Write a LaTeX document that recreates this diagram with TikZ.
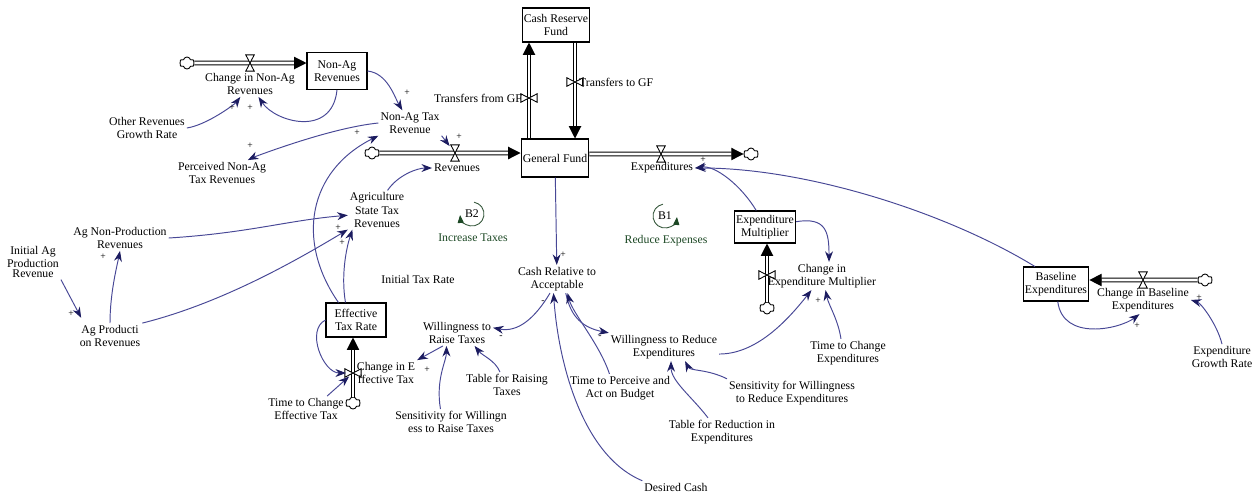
\documentclass[tikz,border=0pt]{standalone}
\usepackage{fontspec}
\setmainfont{Liberation Serif}
\usepackage{tikz}
\usepackage{xcolor}
\usetikzlibrary{arrows.meta}
\usetikzlibrary{shapes.symbols}
\definecolor{linkblue}{RGB}{72,72,150}
\definecolor{tipblue}{RGB}{28,28,96}
\definecolor{loopgreen}{RGB}{28,72,36}
\tikzset{stock/.style={draw, line width=0.6pt, minimum width=1.2cm, minimum height=0.68cm, inner sep=1pt, align=center, fill=white},
 aux/.style={inner sep=1pt, align=center},
 polarity/.style={inner sep=0pt, font=\fontsize{5.5}{6}\selectfont},
 pipe/.style={draw, line width=0.6pt, double distance=1.6pt, -{Triangle[length=7pt,width=7pt]}},
 link/.style={draw=linkblue, line width=0.55pt, -{Stealth[length=6pt,width=4.5pt,color=tipblue]}},
 cloudy/.style={cloud, cloud puffs=6, draw, line width=0.5pt, minimum width=0.3cm, minimum height=0.24cm, inner sep=0pt},
 loopname/.style={inner sep=1pt, text=loopgreen},
 looparc/.style={draw=loopgreen!80!gray, line width=0.5pt, -{Triangle[length=4.5pt,width=3.5pt,color=loopgreen]}},
 valve/.pic={\draw[fill=white, line width=0.5pt] (-2.4pt,4.6pt) -- (2.4pt,4.6pt) -- (-2.4pt,-4.6pt) -- (2.4pt,-4.6pt) -- cycle;},
 }

\begin{document}
\begin{tikzpicture}[x=0.02cm, y=-0.02cm, font=\fontsize{6.7}{7.6}\selectfont]
        \useasboundingbox (0, 0) rectangle (1254, 495);
        \node[stock, minimum width=1.24cm] (crf) at (556, 25) {Cash Reserve\\Fund};
        \node[stock, minimum height=0.74cm] (nar) at (337, 71) {Non-Ag\\Revenues};
        \node[stock, minimum width=1.28cm, minimum height=0.76cm] (gf) at (555, 158) {General Fund};
        \node[stock, minimum height=0.64cm] (em) at (765, 227) {Expenditure\\Multiplier};
        \node[stock] (etr) at (356, 320) {Effective\\Tax Rate};
        \node[stock] (be) at (1056, 284) {Baseline\\Expenditures};

        \node[cloudy] (cnar) at (187, 63) {};
        \node[cloudy] (crev) at (372, 153) {};
        \node[cloudy] (cexp) at (751, 154) {};
        \node[cloudy] (cetr) at (353, 403) {};
        \node[cloudy] (cem) at (767, 308) {};
        \node[cloudy] (cbe) at (1205, 280) {};

        \coordinate (vnar) at (250, 63);
        \coordinate (vrev) at (455, 153);
        \coordinate (vexp) at (661, 154);
        \coordinate (vtf) at (529, 98);
        \coordinate (vtt) at (575, 82);
        \coordinate (vetr) at (353, 373);
        \coordinate (vem) at (767, 275);
        \coordinate (vbe) at (1143, 280);

        \draw[pipe] (cnar) -- (cnar -| nar.west);
        \draw[pipe] (crev) -- (crev -| gf.west);
        \draw[pipe] (gf.east |- cexp) -- (cexp);
        \draw[pipe] (gf.north -| vtf) -- (crf.south -| vtf);
        \draw[pipe] (crf.south -| vtt) -- (gf.north -| vtt);
        \draw[pipe] (cetr) -- (cetr |- etr.south);
        \draw[pipe] (cem) -- (cem |- em.south);
        \draw[pipe] (cbe) -- (cbe -| be.east);

        \pic at (vnar) {valve};
        \pic at (vrev) {valve};
        \pic at (vexp) {valve};
        \pic at (vbe) {valve};
        \pic[rotate=90] at (vtf) {valve};
        \pic[rotate=90] at (vtt) {valve};
        \pic[rotate=90] at (vetr) {valve};
        \pic[rotate=90] at (vem) {valve};

        \node[aux] (cnarl) at (250, 84) {Change in Non-Ag\\Revenues};
        \node[aux] (revl) at (457, 168) {Revenues};
        \node[aux] (expl) at (662, 168) {Expenditures};
        \node[aux, anchor=east] (tfl) at (524, 98) {Transfers from GF};
        \node[aux, anchor=west] (ttl) at (577, 82) {Transfers to GF};
        \node[aux] (cetrl) at (386, 373) {Change in E\\ffective Tax};
        \node[aux] (ceml) at (822, 276) {Change in\\Expenditure Multiplier};
        \node[aux] (cbel) at (1143, 300) {Change in Baseline\\Expenditures};

        \node[aux] (nat) at (410, 123) {Non-Ag Tax\\Revenue};
        \node[aux] (org) at (147, 128) {Other Revenues\\Growth Rate};
        \node[aux] (pnat) at (222, 173) {Perceived Non-Ag\\Tax Revenues};
        \node[aux] (asr) at (377, 210) {Agriculture\\State Tax\\Revenues};
        \node[aux] (anp) at (120, 238) {Ag Non-Production\\Revenues};
        \node[aux, font=\fontsize{6.7}{5.8}\selectfont] (iapr) at (33, 262) {Initial Ag\\Production\\Revenue};
        \node[aux] (apr) at (110, 336) {Ag Producti\\on Revenues};
        \node[aux] (itr) at (418, 279) {Initial Tax Rate};
        \node[aux] (cra) at (557, 279) {Cash Relative to\\Acceptable};
        \node[aux] (wrt) at (457, 333) {Willingness to\\Raise Taxes};
        \node[aux] (trt) at (507, 385) {Table for Raising\\Taxes};
        \node[aux] (swr) at (451, 422) {Sensitivity for Willingn\\ess to Raise Taxes};
        \node[aux] (tcet) at (306, 409) {Time to Change\\Effective Tax};
        \node[aux] (tpab) at (620, 388) {Time to Perceive and\\Act on Budget};
        \node[aux] (wre) at (664, 347) {Willingness to Reduce\\Expenditures};
        \node[aux] (tre) at (722, 432) {Table for Reduction in\\Expenditures};
        \node[aux] (swre) at (792, 393) {Sensitivity for Willingness\\to Reduce Expenditures};
        \node[aux] (tce) at (848, 353) {Time to Change\\Expenditures};
        \node[aux] (egr) at (1222, 357) {Expenditure\\Growth Rate};
        \node[aux] (dc) at (676, 487) {Desired Cash};

        \node[aux] (b2) at (472, 214) {B2};
        \draw[looparc] (b2) ++(-80:12) arc[start angle=-80, end angle=175, radius=12];
        \node[loopname] (b2t) at (473, 238) {Increase Taxes};
        \node[aux] (b1) at (665, 216) {B1};
        \draw[looparc] (b1) ++(-100:12) arc[start angle=-100, end angle=-355, radius=12];
        \node[loopname] (b1t) at (666, 241) {Reduce Expenses};

        \draw[link] (nar.east) .. controls +(20, 2) and +(-15, -25) .. (nat);
        \draw[link] (nar.south) .. controls +(-5, 48) and +(25, 38) .. (cnarl);
        \draw[link] (org.east) .. controls +(20, -3) and +(-15, 20) .. (cnarl);
        \draw[link] (nat.west) .. controls +(-50, 5) and +(30, -15) .. (pnat);
        \draw[link] ([xshift=-10pt]etr.north) .. controls +(-43, -62) and +(-70, 35) .. (nat.south west);
        \draw[link, shorten >=5pt] (nat.south east) -- (vrev);
        \draw[link] ([xshift=6pt]asr.north) .. controls +(10, -15) and +(-15, 0) .. (revl.west);
        \draw[link] (anp.east) .. controls +(80, -5) and +(-60, 5) .. ([yshift=-3pt]asr.west);
        \draw[link] (apr.north east) .. controls +(80, -20) and +(-50, 30) .. (asr.south west);
        \draw[link] ([xshift=-6pt]etr.north) .. controls +(-5, -30) and +(-5, 15) .. ([xshift=-14pt]asr.south);
        \draw[link] (iapr.south east) -- ([xshift=2pt, yshift=3pt]apr.north west);
        \draw[link] (apr.north) .. controls +(0, -30) and +(-3, 15) .. (anp.south);
        \draw[link] (gf) -- (cra);
        \draw[link] ([xshift=-4pt]cra.south) .. controls +(-15, 25) and +(25, 5) .. ([yshift=3pt]wrt.east);
        \draw[link] ([xshift=-8pt]wrt.south) -- (cetrl.north east);
        \draw[link] ([xshift=-6pt]swr.north) .. controls +(-5, -30) and +(0, 15) .. ([xshift=-6pt]wrt.south);
        \draw[link] ([xshift=-4pt]trt.north) .. controls +(-5, -12) and +(8, 10) .. ([xshift=10pt]wrt.south);
        \draw[link, shorten >=4pt] (etr.west) .. controls +(-20, 10) and +(-30, 0) .. (vetr);
        \draw[link, shorten >=3pt] ([xshift=12pt]tcet.north) -- (vetr);
        \draw[link] ([xshift=5pt]cra.south) .. controls +(5, 25) and +(-25, -5) .. (wre.north west);
        \draw[link] ([xshift=-6pt]tpab.north) .. controls +(-10, -30) and +(5, 20) .. ([xshift=6pt]cra.south);
        \draw[link] (dc.north west) .. controls +(-60, -25) and +(5, 70) .. ([xshift=-2pt]cra.south);
        \draw[link] ([yshift=-4pt]wre.east) .. controls +(40, 0) and +(-20, 25) .. ([xshift=-6pt]ceml.south);
        \draw[link] ([xshift=-4pt]tce.north) .. controls +(-3, -20) and +(3, 15) .. ([xshift=2pt]ceml.south);
        \draw[link] ([xshift=-8pt]tre.north) .. controls +(-15, -20) and +(0, 20) .. ([xshift=4pt]wre.south);
        \draw[link] (swre.north west) .. controls +(-20, -10) and +(5, 10) .. ([xshift=12pt]wre.south);
        \draw[link] ([yshift=3pt]em.east) .. controls +(30, -5) and +(0, -30) .. ([xshift=4pt]ceml.north);
        \draw[link] ([xshift=-5pt]em.north) .. controls +(-15, -25) and +(20, -3) .. (expl.east);
        \draw[link] ([xshift=-12pt]be.north) .. controls +(-90, -55) and +(110, 0) .. (expl.east);
        \draw[link] ([xshift=1pt]be.south) .. controls +(5, 40) and +(-20, 15) .. ([xshift=-2pt]cbel.south);
        \draw[link] (egr.north) .. controls +(-5, -20) and +(10, 3) .. (cbel.east);

        \node[polarity] (pl1) at (250, 108) {+};
        \node[polarity] (pl2) at (232, 108) {+};
        \node[polarity] (pl3) at (407, 93) {+};
        \node[polarity] (pl4) at (357, 133) {+};
        \node[polarity] (pl5) at (250, 146) {+};
        \node[polarity] (pl6) at (459, 137) {+};
        \node[polarity] (pl7) at (338, 228) {+};
        \node[polarity] (pl8) at (342, 243) {+};
        \node[polarity] (pl9) at (103, 257) {+};
        \node[polarity] (pl10) at (71, 314) {+};
        \node[polarity] (pl11) at (563, 255) {+};
        \node[polarity] (pl12) at (543, 302) {-};
        \node[polarity] (pl13) at (501, 337) {-};
        \node[polarity] (pl14) at (427, 370) {+};
        \node[polarity] (pl15) at (600, 337) {-};
        \node[polarity] (pl16) at (818, 301) {+};
        \node[polarity] (pl17) at (703, 160) {+};
        \node[polarity] (pl18) at (1137, 326) {+};
        \node[polarity] (pl19) at (1199, 298) {+};
    \end{tikzpicture}
\end{document}
